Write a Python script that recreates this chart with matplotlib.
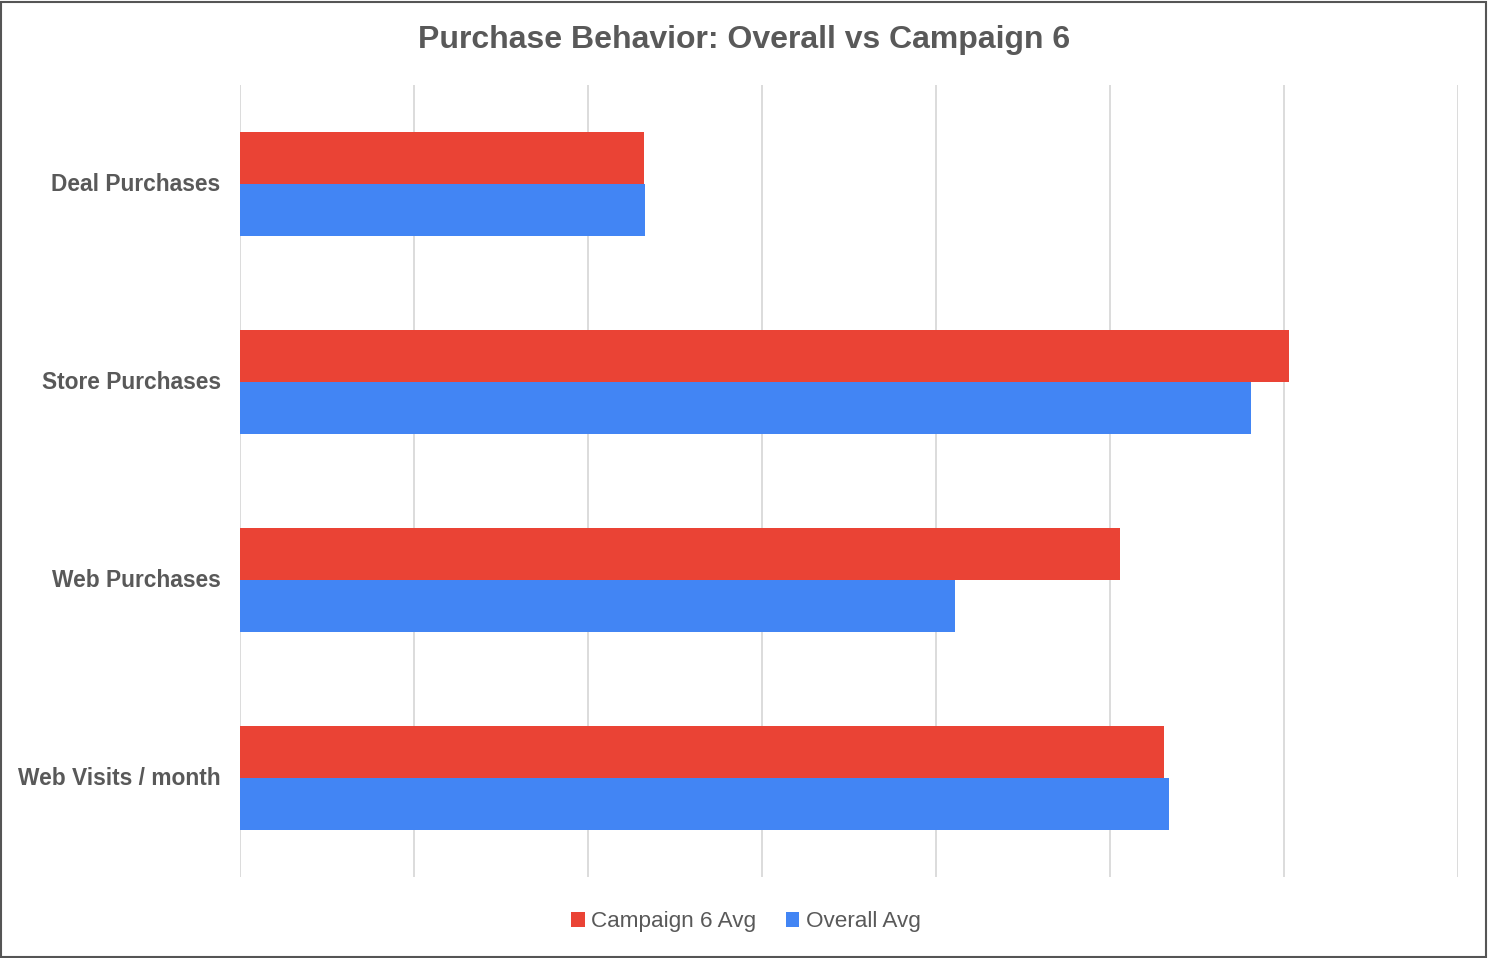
import matplotlib
matplotlib.use("Agg")
import matplotlib.pyplot as plt
import matplotlib.transforms as mtransforms
import numpy as np
from matplotlib.patches import Rectangle

plt.rcParams['font.family'] = ['Liberation Sans', 'DejaVu Sans']

categories = ["Deal Purchases", "Store Purchases", "Web Purchases", "Web Visits / month"]
campaign6 = [2.32, 6.03, 5.06, 5.31]
overall = [2.33, 5.81, 4.11, 5.34]

fig = plt.figure(figsize=(14.88, 9.58), dpi=100)
ax = fig.add_axes([240/1488, 1 - 877/958, (1458 - 240)/1488, (877 - 85)/958])

y = np.arange(len(categories))
h = 0.263
ax.barh(y - h/2, campaign6, height=h, color="#ea4335", label="Campaign 6 Avg", zorder=3)
ax.barh(y + h/2, overall, height=h, color="#4285f4", label="Overall Avg", zorder=3)

ax.set_xlim(0, 7)
ax.set_ylim(3.5, -0.5)
ax.set_xticks(np.arange(0, 8))
ax.set_xticklabels([])
ax.tick_params(axis='x', length=0)
ax.tick_params(axis='y', length=0, pad=14)
ax.set_yticks(y)
ax.set_yticklabels(categories, fontsize=16.4, fontweight='bold', color="#595959")
shift = mtransforms.ScaledTranslation(0, 2/100, fig.dpi_scale_trans)
for lbl in ax.get_yticklabels():
    lbl.set_transform(lbl.get_transform() + shift)
ax.grid(axis='x', color="#d9d9d9", linewidth=1.3, zorder=0)
for s in ax.spines.values():
    s.set_visible(False)

fig.suptitle("Purchase Behavior: Overall vs Campaign 6", fontsize=23, fontweight='bold',
             color="#595959", y=1 - 40/958, va='center')

fig.legend(loc='center', bbox_to_anchor=(746/1488, 1 - 922/958), ncol=2, frameon=False,
           fontsize=16.2, handlelength=0.6, handleheight=0.6, handletextpad=0.3,
           columnspacing=1.3, labelcolor="#595959")

fig.patches.append(Rectangle((0.0005, 0.001), 0.998, 0.997, transform=fig.transFigure,
                             fill=False, edgecolor="#555555", linewidth=1.5))

fig.savefig("out.png", dpi=100)
